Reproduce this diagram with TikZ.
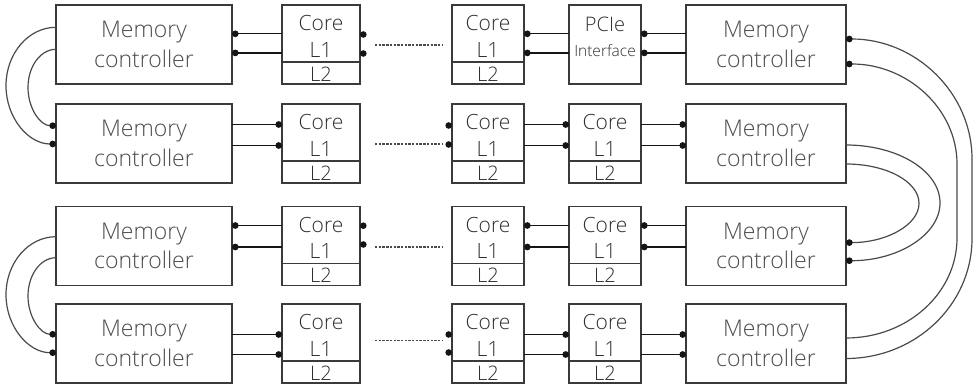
\documentclass[tikz,border=0pt]{standalone}
\usepackage{fontspec}
\IfFontExistsTF{Open Sans Light}{\setmainfont{Open Sans Light}}{\setmainfont{Open Sans}}
\usetikzlibrary{arrows.meta,calc}
\definecolor{boxline}{HTML}{3A3A3A}
\definecolor{mctext}{HTML}{4C4C4C}
\definecolor{celltext}{HTML}{2E2E2E}
\definecolor{wire}{HTML}{151515}
\definecolor{loopline}{HTML}{4A4A4A}

% one core cell: name, left x, top y, width
\newcommand\corecell[4]{%
  \node[cellbox, minimum width=#4] (#1) at (#2,#3) {};
  \draw[divider] ($(#1.north west)+(0,57)$) -- ($(#1.north east)+(0,57)$);
  \node[celltxt] (#1-core) at ($(#1.north)+(0,25.7)$) {Core};
  \node[celltxt] (#1-l1) at ($(#1.north)+(0,52.3)$) {L1};
  \node[celltxt, font=\fontsize{20}{22}\selectfont] (#1-l2) at ($(#1.north)+(0,76.3)$) {L2};
}

\begin{document}
\begin{tikzpicture}[x=1pt,y=-1pt,
  box/.style={draw=boxline, line width=1.2pt, inner sep=0pt, outer sep=0pt,
    anchor=north west, minimum height=79pt},
  mcbox/.style={box, text=mctext, align=center,
    font=\fontsize{23}{29.5}\selectfont},
  cellbox/.style={box},
  divider/.style={draw=boxline, line width=1.2pt},
  celltxt/.style={anchor=base, inner sep=0pt, text=celltext,
    font=\fontsize{21}{25}\selectfont},
  link/.style={draw=wire, line width=1.4pt},
  dotstart/.style={{Circle[length=6.6pt,width=6.6pt,color=wire]}-},
  dotend/.style={-{Circle[length=6.6pt,width=6.6pt,color=wire]}},
  loop/.style={draw=loopline, line width=1.2pt},
  gap/.style={draw=loopline, line width=1.1pt, dash pattern=on 2.4pt off 1.3pt,
    shorten <=15pt, shorten >=9pt},
]
\fill[white] (0,0) rectangle (974,387);
\useasboundingbox (0,0) rectangle (974,387);

% memory controllers, left column
\node[mcbox, minimum width=176pt] (mc1) at (56,5) {Memory\\controller};
\node[mcbox, minimum width=176pt] (mc2) at (56,104) {Memory\\controller};
\node[mcbox, minimum width=176pt] (mc3) at (56,206.5) {Memory\\controller};
\node[mcbox, minimum width=176pt] (mc4) at (56,304) {Memory\\controller};

% memory controllers, right column
\node[mcbox, minimum width=160pt] (mr1) at (686,5) {Memory\\controller};
\node[mcbox, minimum width=160pt] (mr2) at (686,104) {Memory\\controller};
\node[mcbox, minimum width=160pt] (mr3) at (686,206.5) {Memory\\controller};
\node[mcbox, minimum width=160pt] (mr4) at (686,304) {Memory\\controller};

% cores
\corecell{a1}{282}{5}{78}
\corecell{a2}{282}{104}{78}
\corecell{a3}{282}{206.5}{78}
\corecell{a4}{282}{304}{78}
\corecell{b1}{452}{5}{72}
\corecell{b2}{452}{104}{72}
\corecell{b3}{452}{206.5}{72}
\corecell{b4}{452}{304}{72}
\corecell{c2}{569}{104}{72}
\corecell{c3}{569}{206.5}{72}
\corecell{c4}{569}{304}{72}

% PCIe interface
\node[cellbox, minimum width=72pt] (pcie) at (569,5) {};
\node[celltxt, font=\fontsize{20}{22}\selectfont] (pcie-t) at ($(pcie.north)+(0,26.8)$) {PCIe};
\node[celltxt, font=\fontsize{15.5}{17}\selectfont] (pcie-i) at ($(pcie.north)+(0,51.7)$) {Interface};

% row 1 links
\draw[link, dotstart] (mc1.east |- 0,33.8) -- (a1.west |- 0,33.8);
\draw[link, dotstart] (mc1.east |- 0,52.9) -- (a1.west |- 0,52.9);
\fill[wire] ($(a1.east |- 0,34.5)+(3.3,0)$) circle (3.3pt);
\fill[wire] ($(a1.east |- 0,53.5)+(3.3,0)$) circle (3.3pt);
\draw[link, dotstart] (b1.east |- 0,33.8) -- (pcie.west |- 0,33.8);
\draw[link, dotstart] (b1.east |- 0,52.9) -- (pcie.west |- 0,52.9);
\draw[link, dotstart] (pcie.east |- 0,33.8) -- (mr1.west |- 0,33.8);
\draw[link, dotstart] (pcie.east |- 0,52.9) -- (mr1.west |- 0,52.9);

% row 2 links
\draw[link, dotend] (mc2.east |- 0,124.5) -- (a2.west |- 0,124.5);
\draw[link, dotend] (mc2.east |- 0,145.5) -- (a2.west |- 0,145.5);
\fill[wire] ($(b2.west |- 0,125.5)+(-3.3,0)$) circle (3.3pt);
\fill[wire] ($(b2.west |- 0,144.5)+(-3.3,0)$) circle (3.3pt);
\draw[link, dotend] (b2.east |- 0,124.5) -- (c2.west |- 0,124.5);
\draw[link, dotend] (b2.east |- 0,145.5) -- (c2.west |- 0,145.5);
\draw[link, dotend] (c2.east |- 0,124.5) -- (mr2.west |- 0,124.5);
\draw[link, dotend] (c2.east |- 0,145.5) -- (mr2.west |- 0,145.5);

% row 3 links
\draw[link, dotstart] (mc3.east |- 0,225.5) -- (a3.west |- 0,225.5);
\draw[link, dotstart] (mc3.east |- 0,247) -- (a3.west |- 0,247);
\fill[wire] ($(a3.east |- 0,225.7)+(3.3,0)$) circle (3.3pt);
\fill[wire] ($(a3.east |- 0,244.5)+(3.3,0)$) circle (3.3pt);
\draw[link, dotstart] (b3.east |- 0,225.5) -- (c3.west |- 0,225.5);
\draw[link, dotstart] (b3.east |- 0,247) -- (c3.west |- 0,247);
\draw[link, dotstart] (c3.east |- 0,225.5) -- (mr3.west |- 0,225.5);
\draw[link, dotstart] (c3.east |- 0,247) -- (mr3.west |- 0,247);

% row 4 links
\draw[link, dotend] (mc4.east |- 0,334.5) -- (a4.west |- 0,334.5);
\draw[link, dotend] (mc4.east |- 0,354.5) -- (a4.west |- 0,354.5);
\fill[wire] ($(b4.west |- 0,334.5)+(-3.3,0)$) circle (3.3pt);
\fill[wire] ($(b4.west |- 0,352.5)+(-3.3,0)$) circle (3.3pt);
\draw[link, dotend] (b4.east |- 0,334.5) -- (c4.west |- 0,334.5);
\draw[link, dotend] (b4.east |- 0,354.5) -- (c4.west |- 0,354.5);
\draw[link, dotend] (c4.east |- 0,334.5) -- (mr4.west |- 0,334.5);
\draw[link, dotend] (c4.east |- 0,354.5) -- (mr4.west |- 0,354.5);

% elided cores
\draw[gap] (a1.east |- 0,45) -- (b1.west |- 0,45);
\draw[gap] (a2.east |- 0,144) -- (b2.west |- 0,144);
\draw[gap] (a3.east |- 0,247) -- (b3.west |- 0,247);
\draw[gap] (a4.east |- 0,340.5) -- (b4.west |- 0,340.5);

% left loops between controller pairs
\draw[loop, dotend] (mc1.west |- 0,27.3) .. controls +(-27.6,0) and +(0,-32.2) .. (6,85.7)
  .. controls +(0,32.2) and +(-27.6,0) .. (mc2.west |- 0,144);
\draw[loop, dotend] (mc1.west |- 0,49.3) .. controls +(-15.5,0) and +(0,-21.1) .. (28,87.5)
  .. controls +(0,21.1) and +(-15.5,0) .. (mc2.west |- 0,125.7);
\draw[loop, dotend] (mc3.west |- 0,236.7) .. controls +(-27.6,0) and +(0,-32) .. (6,294.7)
  .. controls +(0,32) and +(-27.6,0) .. (mc4.west |- 0,352.7);
\draw[loop, dotend] (mc3.west |- 0,257.7) .. controls +(-15.5,0) and +(0,-21.1) .. (28,296)
  .. controls +(0,21.1) and +(-15.5,0) .. (mc4.west |- 0,334.3);

% right loops
\draw[loop, dotstart] (mr1.east |- 0,39) .. controls +(69.6,0) and +(0,-66.2) .. (972,159)
  -- (972,238.5) .. controls +(0,66.2) and +(69.6,0) .. (mr4.east |- 0,358.5);
\draw[loop, dotstart] (mr1.east |- 0,64) .. controls +(61.3,0) and +(0,-55.2) .. (957,164)
  -- (957,238) .. controls +(0,55.2) and +(61.3,0) .. (mr4.east |- 0,338);
\draw[loop, dotend] (mr2.east |- 0,145) .. controls +(51.9,0) and +(0,-32) .. (940,202.9)
  .. controls +(0,32) and +(51.9,0) .. (mr3.east |- 0,260.7);
\draw[loop, dotend] (mr2.east |- 0,164) .. controls +(40.3,0) and +(0,-21.7) .. (919,203.3)
  .. controls +(0,21.7) and +(40.3,0) .. (mr3.east |- 0,242.6);
\end{tikzpicture}
\end{document}
